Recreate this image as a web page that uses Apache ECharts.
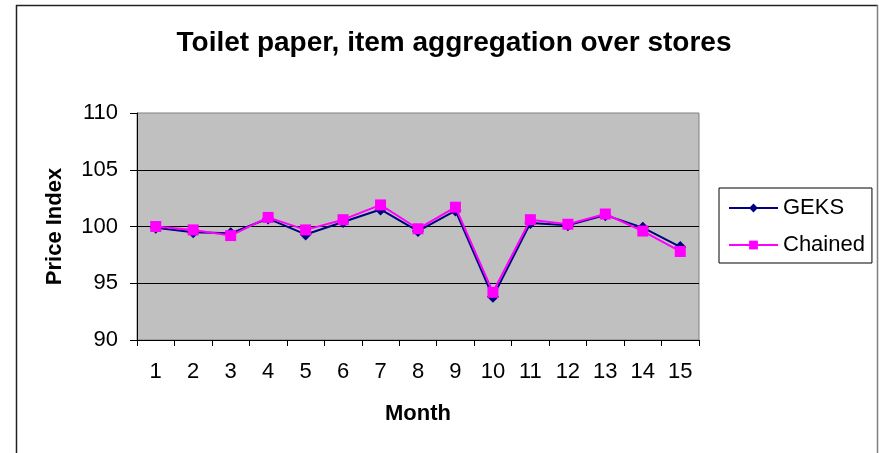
<!DOCTYPE html>
<html>
<head>
<meta charset="utf-8">
<script src="https://cdn.jsdelivr.net/npm/echarts@6/dist/echarts.min.js"></script>
<style>
  html, body { margin: 0; padding: 0; background: #fff; }
  #chart { width: 879px; height: 453px; }
</style>
</head>
<body>
<div id="chart"></div>
<script>
// Monthly price index for toilet paper, two aggregation methods
const months = ['1', '2', '3', '4', '5', '6', '7', '8', '9', '10', '11', '12', '13', '14', '15'];
const geks = [99.9, 99.5, 99.4, 100.7, 99.3, 100.4, 101.5, 99.6, 101.4, 93.8, 100.3, 100.1, 101.0, 99.9, 98.2];
const chained = [100.0, 99.7, 99.2, 100.8, 99.7, 100.6, 101.9, 99.8, 101.7, 94.2, 100.6, 100.2, 101.1, 99.6, 97.8];
const yTicks = { min: 90, max: 110, step: 5 };

const FONT = '"Liberation Sans", Arial, sans-serif';

const chart = echarts.init(document.getElementById('chart'), null, { renderer: 'canvas' });

chart.setOption({
  animation: false,
  backgroundColor: '#ffffff',
  textStyle: { fontFamily: FONT },
  title: {
    text: 'Toilet paper, item aggregation over stores',
    left: 449,
    top: 24,
    textAlign: 'center',
    textStyle: { fontFamily: FONT, fontSize: 28, fontWeight: 'bold', color: '#000' }
  },
  graphic: [
    { type: 'line', shape: { x1: 16, y1: 5.5, x2: 878, y2: 5.5 }, style: { stroke: '#222', lineWidth: 1.5 }, silent: true },
    { type: 'line', shape: { x1: 16.5, y1: 5, x2: 16.5, y2: 453 }, style: { stroke: '#222', lineWidth: 1.5 }, silent: true },
    { type: 'line', shape: { x1: 877.5, y1: 5, x2: 877.5, y2: 453 }, style: { stroke: '#808080', lineWidth: 1.5 }, silent: true }
  ],
  legend: {
    orient: 'vertical',
    left: 719,
    top: 188,
    padding: [9, 7, 7, 9],
    itemGap: 15,
    itemWidth: 49,
    itemHeight: 11,
    borderColor: '#000',
    borderWidth: 1,
    backgroundColor: '#fff',
    textStyle: { fontFamily: FONT, fontSize: 22, color: '#000' },
    data: ['GEKS', 'Chained']
  },
  grid: {
    left: 137,
    right: 180,
    top: 113,
    bottom: 113,
    show: true,
    backgroundColor: '#c0c0c0',
    borderColor: '#808080',
    borderWidth: 1
  },
  xAxis: {
    type: 'category',
    data: months,
    boundaryGap: true,
    name: 'Month',
    nameLocation: 'middle',
    nameGap: 63,
    nameTextStyle: { fontFamily: FONT, fontSize: 22, fontWeight: 'bold', color: '#000' },
    axisLine: { lineStyle: { color: '#000', width: 1 } },
    axisTick: { show: true, length: 6, lineStyle: { color: '#000' } },
    axisLabel: { fontFamily: FONT, fontSize: 22, color: '#000', margin: 21 },
    splitLine: { show: false }
  },
  yAxis: {
    type: 'value',
    min: yTicks.min,
    max: yTicks.max,
    interval: yTicks.step,
    name: 'Price Index',
    nameLocation: 'middle',
    nameGap: 71,
    nameRotate: 90,
    nameTextStyle: { fontFamily: FONT, fontSize: 22, fontWeight: 'bold', color: '#000' },
    axisLine: { show: true, lineStyle: { color: '#000', width: 1 } },
    axisTick: { show: true, length: 7, lineStyle: { color: '#000' } },
    axisLabel: { fontFamily: FONT, fontSize: 22, color: '#000', margin: 19 },
    splitLine: { show: true, showMinLine: false, showMaxLine: false, lineStyle: { color: '#000', width: 1 } }
  },
  series: [
    {
      name: 'GEKS',
      type: 'line',
      data: geks,
      symbol: 'diamond',
      symbolSize: 12,
      itemStyle: { color: '#000080' },
      lineStyle: { color: '#000080', width: 2 },
      z: 2
    },
    {
      name: 'Chained',
      type: 'line',
      data: chained,
      symbol: 'rect',
      symbolSize: 11,
      itemStyle: { color: '#ff00ff' },
      lineStyle: { color: '#ff00ff', width: 2 },
      z: 3
    }
  ]
});
</script>
</body>
</html>
